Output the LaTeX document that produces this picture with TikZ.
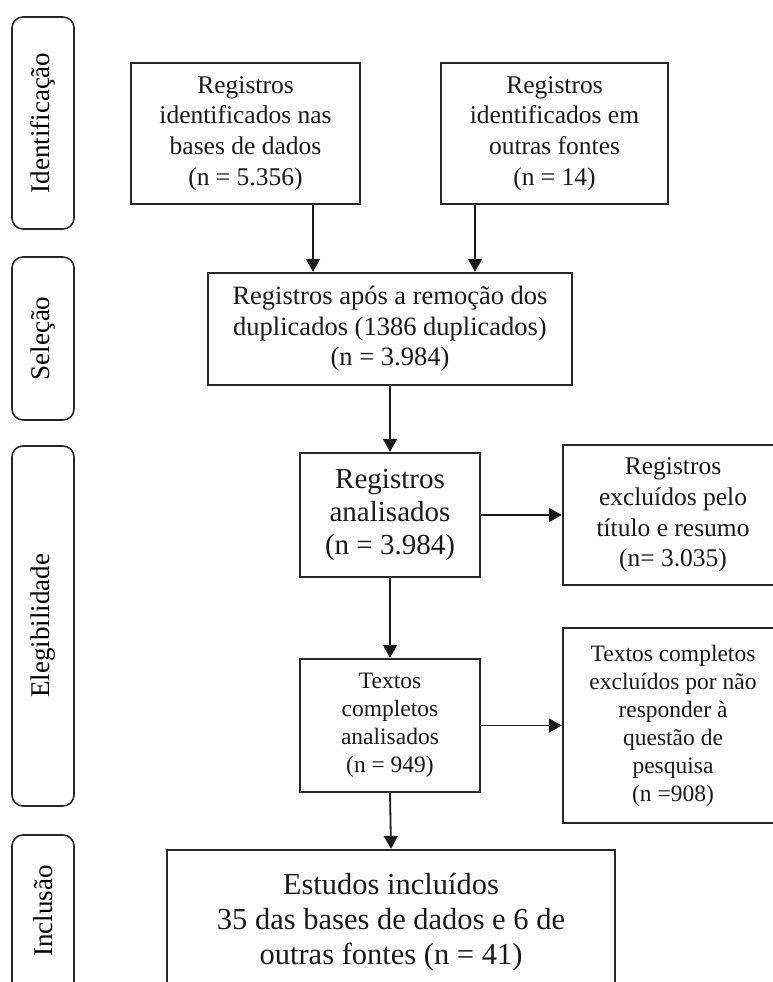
\documentclass[tikz,border=0pt]{standalone}
\usepackage{fontspec}
\setmainfont{Liberation Serif}
\usetikzlibrary{arrows.meta}
\begin{document}
\begin{tikzpicture}[x=1pt,y=-1pt,
  box/.style={draw=black!85, line width=2.2pt, align=center, inner sep=0pt, text=black!90},
  phase/.style={draw=black!85, line width=1.6pt, rounded corners=11pt, inner sep=0pt},
  arr/.style={-{Triangle[length=13pt,width=14pt]}, line width=1.8pt, draw=black!90, fill=black!90},
  fA/.style={font=\fontsize{25.5}{30.6}\selectfont},
  fA2/.style={font=\fontsize{26.5}{30.5}\selectfont},
  fB/.style={font=\fontsize{29}{33}\selectfont},
  fD/.style={font=\fontsize{30.5}{35}\selectfont},
  fC/.style={font=\fontsize{23.5}{28}\selectfont},
  fP/.style={font=\fontsize{27}{32}\selectfont}
]
\useasboundingbox (0,0) rectangle (773,982);

% phase boxes
\node[phase, minimum width=62pt, minimum height=212pt] (p1) at (43,123) {};
\node[phase, minimum width=62pt, minimum height=163pt] (p2) at (43,338.5) {};
\node[phase, minimum width=62pt, minimum height=360pt] (p3) at (43,626) {};
\node[phase, minimum width=62pt, minimum height=170pt] (p4) at (43,920) {};
\node[fP, rotate=90] (t1) at (p1.center) {Identificação};
\node[fP, rotate=90] (t2) at (p2.center) {Seleção};
\node[fP, rotate=90] (t3) at (p3.center) {Elegibilidade};
\node[fP, rotate=90] (t4) at (43,911) {Inclusão};

% main boxes
\node[box, fA, minimum width=229pt, minimum height=141pt] (b1) at (245.5,133.5)
  {Registros\\identificados nas\\bases de dados\\(n = 5.356)};
\node[box, fA, minimum width=227pt, minimum height=141pt] (b2) at (554.5,133.5)
  {Registros\\identificados em\\outras fontes\\(n = 14)};
\node[box, fA2, minimum width=364pt, minimum height=112pt] (b3) at (390,329)
  {Registros após a remoção dos\\duplicados (1386 duplicados)\\(n = 3.984)};
\node[box, fB, minimum width=180pt, minimum height=124pt] (b4) at (390,515)
  {Registros\\analisados\\(n = 3.984)};
\node[box, fA, minimum width=220pt, minimum height=140pt] (b5) at (673,515)
  {Registros\\excluídos pelo\\título e resumo\\(n= 3.035)};
\node[box, fC, minimum width=180pt, minimum height=133pt] (b6) at (390,725.5)
  {Textos\\completos\\analisados\\(n = 949)};
\node[box, fC, minimum width=220pt, minimum height=195pt] (b7) at (673,725.5)
  {Textos completos\\excluídos por não\\responder à\\questão de\\pesquisa\\(n =908)};
\node[box, fD, minimum width=448pt, minimum height=144pt] (b8) at (391,922)
  {Estudos incluídos\\35 das bases de dados e 6 de\\outras fontes (n = 41)};

% connectors
\coordinate (c1) at (313,0);
\coordinate (c2) at (475,0);
\draw[arr] (b1.south -| c1) -- (b3.north -| c1);
\draw[arr] (b2.south -| c2) -- (b3.north -| c2);
\draw[arr] (b3.south) -- (b4.north);
\draw[arr] (b4.east) -- (b5.west);
\draw[arr] (b4.south) -- (b6.north);
\draw[arr] (b6.east) -- (b7.west);
\draw[arr] (b6.south) -- (b8.north);
\end{tikzpicture}
\end{document}
